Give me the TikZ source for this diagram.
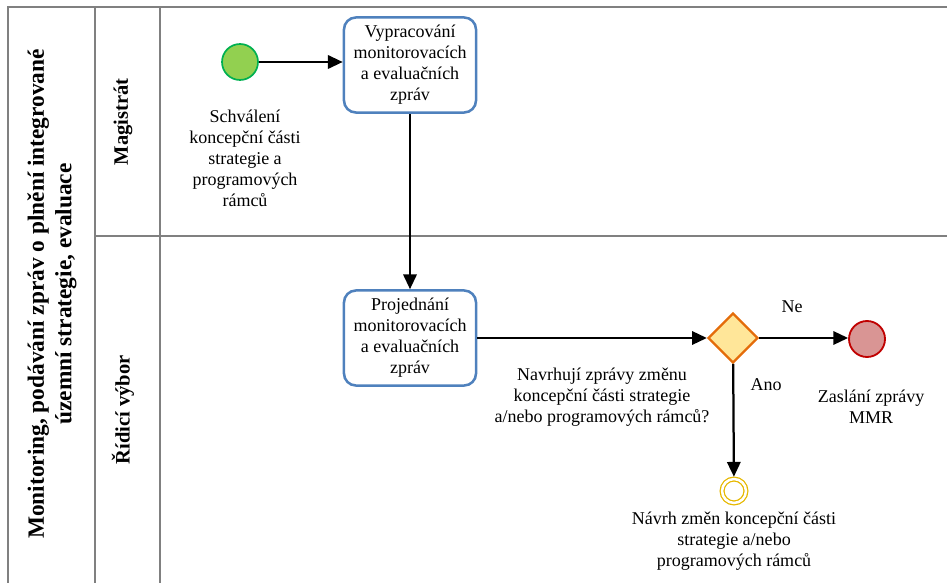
\documentclass[tikz,border=0pt]{standalone}
\usepackage{fontspec}
\setmainfont{Liberation Serif}
\usepackage{xcolor}
\usetikzlibrary{shapes,arrows,arrows.meta,positioning}

\definecolor{laneGray}{RGB}{128,128,128}
\definecolor{taskBlue}{RGB}{79,129,189}
\definecolor{startFill}{RGB}{146,208,80}
\definecolor{startLine}{RGB}{0,176,80}
\definecolor{gwFill}{RGB}{255,230,153}
\definecolor{gwLine}{RGB}{228,108,10}
\definecolor{endFill}{RGB}{217,149,148}
\definecolor{endLine}{RGB}{192,0,0}
\definecolor{midLine}{RGB}{230,184,0}

\tikzset{
  txt/.style={font=\fontsize{12.8}{14.9}\selectfont, align=center, inner sep=0pt},
  laneLine/.style={draw=laneGray, line width=1.4pt},
  laneLbl/.style={font=\fontsize{14.6}{17}\selectfont\bfseries, rotate=90, inner sep=0pt},
  poolLbl/.style={font=\fontsize{16.6}{19.5}\selectfont\bfseries, rotate=90, align=center, inner sep=0pt},
  task/.style={txt, draw=taskBlue, line width=1.8pt, rounded corners=8.5pt,
    minimum width=93.9pt, minimum height=67.6pt},
  startEv/.style={circle, draw=startLine, fill=startFill, line width=1.2pt, minimum size=25.6pt, inner sep=0pt},
  endEv/.style={circle, draw=endLine, fill=endFill, line width=1.3pt, minimum size=25.6pt, inner sep=0pt},
  midEv/.style={circle, draw=midLine, double=white, double distance=1.8pt, line width=0.9pt, minimum size=17pt, inner sep=0pt},
  gateway/.style={diamond, draw=gwLine, fill=gwFill, line width=1.6pt, minimum width=35.6pt, minimum height=35.6pt, inner sep=0pt},
  flow/.style={->, line width=1.6pt}
}

\begin{document}
\begin{tikzpicture}[x=0.025cm, y=-0.025cm, >={Triangle[length=10.5pt,width=9.5pt]}]

    \useasboundingbox (0,0) rectangle (947,583);

    % Pool and lanes
    \draw[laneLine] (8,583) -- (8,7) -- (947,7);
    \draw[laneLine] (95,7) -- (95,583);
    \draw[laneLine] (160,7) -- (160,583);
    \draw[laneLine] (95,236) -- (947,236);

    \node[poolLbl] (pool) at (52,294) {Monitoring, podávání zpráv o plnění integrované\\územní strategie, evaluace};
    \node[laneLbl] (magLbl) at (123,122) {Magistrát};
    \node[laneLbl] (rvLbl) at (123,410) {Řídicí výbor};

    % Magistrat
    \node[startEv] (start) at (240,62) {};
    \node[txt] (startLbl) at (245,158) {Schválení\\koncepční části\\strategie a\\programových\\rámců};
    \node[task] (vypr) at (410,65) {Vypracování\\monitorovacích\\a evaluačních\\zpráv};

    % Ridici vybor
    \node[task] (proj) at (410,338) {Projednání\\monitorovacích\\a evaluačních\\zpráv};
    \node[gateway] (gw) at (733,338) {};
    \node[txt] (gwLbl) at (602,397) {Navrhují zprávy změnu\\koncepční části strategie\\a/nebo programových rámců?};
    \node[endEv] (end) at (867,339) {};
    \node[txt] (endLbl) at (871,407) {Zaslání zprávy\\MMR};
    \node[midEv] (mid) at (734,491) {};
    \node[txt] (midLbl) at (734,541) {Návrh změn koncepční části\\strategie a/nebo\\programových rámců};

    \node[txt] (ne) at (792,307) {Ne};
    \node[txt] (ano) at (766,385) {Ano};

    \draw[flow] (start.east) -- (start.east -| vypr.west);
    \draw[flow] (vypr) -- (proj);
    \draw[flow] (proj) -- (gw);
    \draw[flow] (gw.east) -- (gw.east -| end.west);
    \draw[flow, shorten >=1.2pt] (gw) -- (mid);

\end{tikzpicture}
\end{document}
